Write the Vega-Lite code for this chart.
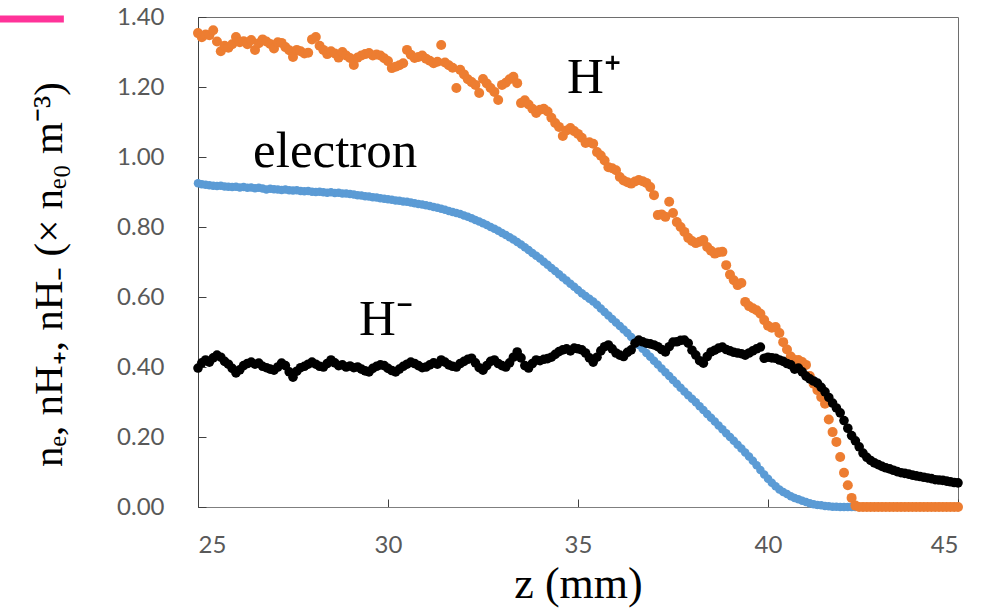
{
  "$schema": "https://vega.github.io/schema/vega-lite/v6.json",
  "width": 760,
  "height": 490,
  "autosize": {"type": "none"},
  "padding": {"left": 198, "top": 17, "right": 39, "bottom": 101},
  "background": "white",
  "config": {"view": {"stroke": "#6e6e6e", "strokeWidth": 1}},
  "datasets": {
    "d": [
{"z":25.0,"e":0.925,"p":1.354,"m":0.397},{"z":25.1,"e":0.922,"p":1.342,"m":0.412},{"z":25.2,"e":0.921,"p":1.350,"m":0.420},{"z":25.3,"e":0.919,"p":1.348,"m":0.414},{"z":25.4,"e":0.918,"p":1.362,"m":0.426},{"z":25.5,"e":0.917,"p":1.330,"m":0.434},{"z":25.6,"e":0.918,"p":1.302,"m":0.428},{"z":25.7,"e":0.916,"p":1.318,"m":0.416},{"z":25.8,"e":0.915,"p":1.312,"m":0.408},{"z":25.9,"e":0.914,"p":1.322,"m":0.396},
{"z":26.0,"e":0.915,"p":1.343,"m":0.383},{"z":26.1,"e":0.913,"p":1.328,"m":0.392},{"z":26.2,"e":0.914,"p":1.331,"m":0.404},{"z":26.3,"e":0.912,"p":1.322,"m":0.410},{"z":26.4,"e":0.913,"p":1.334,"m":0.414},{"z":26.5,"e":0.911,"p":1.306,"m":0.408},{"z":26.6,"e":0.912,"p":1.325,"m":0.411},{"z":26.7,"e":0.910,"p":1.336,"m":0.402},{"z":26.8,"e":0.907,"p":1.330,"m":0.398},{"z":26.9,"e":0.909,"p":1.323,"m":0.394},
{"z":27.0,"e":0.908,"p":1.310,"m":0.391},{"z":27.1,"e":0.907,"p":1.328,"m":0.400},{"z":27.2,"e":0.906,"p":1.326,"m":0.411},{"z":27.3,"e":0.907,"p":1.314,"m":0.404},{"z":27.4,"e":0.905,"p":1.305,"m":0.386},{"z":27.5,"e":0.904,"p":1.286,"m":0.371},{"z":27.6,"e":0.905,"p":1.306,"m":0.388},{"z":27.7,"e":0.903,"p":1.302,"m":0.398},{"z":27.8,"e":0.902,"p":1.296,"m":0.402},{"z":27.9,"e":0.903,"p":1.298,"m":0.408},
{"z":28.0,"e":0.901,"p":1.336,"m":0.414},{"z":28.1,"e":0.900,"p":1.343,"m":0.408},{"z":28.2,"e":0.901,"p":1.318,"m":0.402},{"z":28.3,"e":0.899,"p":1.306,"m":0.400},{"z":28.4,"e":0.898,"p":1.294,"m":0.410},{"z":28.5,"e":0.899,"p":1.302,"m":0.420},{"z":28.6,"e":0.897,"p":1.296,"m":0.412},{"z":28.7,"e":0.898,"p":1.284,"m":0.404},{"z":28.8,"e":0.896,"p":1.300,"m":0.406},{"z":28.9,"e":0.896,"p":1.290,"m":0.400},
{"z":29.0,"e":0.894,"p":1.283,"m":0.403},{"z":29.1,"e":0.893,"p":1.263,"m":0.398},{"z":29.2,"e":0.891,"p":1.284,"m":0.400},{"z":29.3,"e":0.890,"p":1.290,"m":0.394},{"z":29.4,"e":0.888,"p":1.294,"m":0.389},{"z":29.5,"e":0.887,"p":1.297,"m":0.386},{"z":29.6,"e":0.885,"p":1.290,"m":0.396},{"z":29.7,"e":0.884,"p":1.293,"m":0.402},{"z":29.8,"e":0.882,"p":1.290,"m":0.406},{"z":29.9,"e":0.881,"p":1.282,"m":0.404},
{"z":30.0,"e":0.879,"p":1.274,"m":0.396},{"z":30.1,"e":0.878,"p":1.254,"m":0.390},{"z":30.2,"e":0.876,"p":1.258,"m":0.386},{"z":30.3,"e":0.875,"p":1.262,"m":0.394},{"z":30.4,"e":0.873,"p":1.268,"m":0.402},{"z":30.5,"e":0.872,"p":1.306,"m":0.408},{"z":30.6,"e":0.870,"p":1.292,"m":0.414},{"z":30.7,"e":0.868,"p":1.283,"m":0.410},{"z":30.8,"e":0.866,"p":1.286,"m":0.404},{"z":30.9,"e":0.864,"p":1.290,"m":0.398},
{"z":31.0,"e":0.862,"p":1.281,"m":0.400},{"z":31.1,"e":0.860,"p":1.275,"m":0.406},{"z":31.2,"e":0.857,"p":1.268,"m":0.412},{"z":31.3,"e":0.855,"p":1.272,"m":0.408},{"z":31.4,"e":0.852,"p":1.320,"m":0.420},{"z":31.5,"e":0.849,"p":1.270,"m":0.414},{"z":31.6,"e":0.846,"p":1.262,"m":0.406},{"z":31.7,"e":0.843,"p":1.255,"m":0.402},{"z":31.8,"e":0.840,"p":1.197,"m":0.400},{"z":31.9,"e":0.837,"p":1.249,"m":0.410},
{"z":32.0,"e":0.833,"p":1.236,"m":0.416},{"z":32.1,"e":0.829,"p":1.222,"m":0.422},{"z":32.2,"e":0.825,"p":1.214,"m":0.425},{"z":32.3,"e":0.820,"p":1.206,"m":0.412},{"z":32.4,"e":0.816,"p":1.183,"m":0.398},{"z":32.5,"e":0.811,"p":1.223,"m":0.391},{"z":32.6,"e":0.806,"p":1.210,"m":0.404},{"z":32.7,"e":0.800,"p":1.197,"m":0.416},{"z":32.8,"e":0.795,"p":1.186,"m":0.420},{"z":32.9,"e":0.789,"p":1.163,"m":0.410},
{"z":33.0,"e":0.783,"p":1.206,"m":0.404},{"z":33.1,"e":0.777,"p":1.212,"m":0.400},{"z":33.2,"e":0.771,"p":1.222,"m":0.412},{"z":33.3,"e":0.764,"p":1.229,"m":0.428},{"z":33.4,"e":0.757,"p":1.211,"m":0.443},{"z":33.5,"e":0.750,"p":1.154,"m":0.426},{"z":33.6,"e":0.742,"p":1.162,"m":0.404},{"z":33.7,"e":0.734,"p":1.150,"m":0.397},{"z":33.8,"e":0.726,"p":1.138,"m":0.410},{"z":33.9,"e":0.718,"p":1.126,"m":0.420},
{"z":34.0,"e":0.710,"p":1.135,"m":0.418},{"z":34.1,"e":0.701,"p":1.138,"m":0.422},{"z":34.2,"e":0.692,"p":1.130,"m":0.424},{"z":34.3,"e":0.683,"p":1.112,"m":0.428},{"z":34.4,"e":0.674,"p":1.097,"m":0.436},{"z":34.5,"e":0.665,"p":1.086,"m":0.444},{"z":34.6,"e":0.656,"p":1.060,"m":0.449},{"z":34.7,"e":0.647,"p":1.076,"m":0.452},{"z":34.8,"e":0.638,"p":1.083,"m":0.446},{"z":34.9,"e":0.629,"p":1.074,"m":0.454},
{"z":35.0,"e":0.620,"p":1.066,"m":0.452},{"z":35.1,"e":0.611,"p":1.055,"m":0.449},{"z":35.2,"e":0.603,"p":1.040,"m":0.440},{"z":35.3,"e":0.595,"p":1.042,"m":0.426},{"z":35.4,"e":0.587,"p":1.038,"m":0.414},{"z":35.5,"e":0.578,"p":1.014,"m":0.428},{"z":35.6,"e":0.567,"p":1.004,"m":0.446},{"z":35.7,"e":0.557,"p":0.990,"m":0.458},{"z":35.8,"e":0.547,"p":0.971,"m":0.463},{"z":35.9,"e":0.537,"p":0.968,"m":0.452},
{"z":36.0,"e":0.527,"p":0.962,"m":0.440},{"z":36.1,"e":0.517,"p":0.943,"m":0.434},{"z":36.2,"e":0.507,"p":0.933,"m":0.430},{"z":36.3,"e":0.497,"p":0.928,"m":0.442},{"z":36.4,"e":0.486,"p":0.924,"m":0.449},{"z":36.5,"e":0.475,"p":0.930,"m":0.468},{"z":36.6,"e":0.463,"p":0.934,"m":0.477},{"z":36.7,"e":0.452,"p":0.931,"m":0.472},{"z":36.8,"e":0.440,"p":0.926,"m":0.468},{"z":36.9,"e":0.429,"p":0.914,"m":0.466},
{"z":37.0,"e":0.418,"p":0.891,"m":0.463},{"z":37.1,"e":0.407,"p":0.834,"m":0.458},{"z":37.2,"e":0.396,"p":0.836,"m":0.450},{"z":37.3,"e":0.385,"p":0.829,"m":0.443},{"z":37.4,"e":0.374,"p":0.872,"m":0.458},{"z":37.5,"e":0.363,"p":0.840,"m":0.471},{"z":37.6,"e":0.352,"p":0.814,"m":0.472},{"z":37.7,"e":0.341,"p":0.800,"m":0.476},{"z":37.8,"e":0.330,"p":0.786,"m":0.477},{"z":37.9,"e":0.319,"p":0.769,"m":0.468},
{"z":38.0,"e":0.309,"p":0.760,"m":0.448},{"z":38.1,"e":0.299,"p":0.754,"m":0.434},{"z":38.2,"e":0.288,"p":0.758,"m":0.418},{"z":38.3,"e":0.277,"p":0.763,"m":0.411},{"z":38.4,"e":0.266,"p":0.743,"m":0.430},{"z":38.5,"e":0.255,"p":0.732,"m":0.443},{"z":38.6,"e":0.244,"p":0.724,"m":0.448},{"z":38.7,"e":0.233,"p":0.728,"m":0.454},{"z":38.8,"e":0.222,"p":0.729,"m":0.457},{"z":38.9,"e":0.211,"p":0.691,"m":0.450},
{"z":39.0,"e":0.200,"p":0.664,"m":0.446},{"z":39.1,"e":0.189,"p":0.648,"m":0.442},{"z":39.2,"e":0.178,"p":0.634,"m":0.440},{"z":39.3,"e":0.167,"p":0.640,"m":0.438},{"z":39.4,"e":0.156,"p":0.586,"m":0.434},{"z":39.5,"e":0.144,"p":0.574,"m":0.440},{"z":39.6,"e":0.132,"p":0.568,"m":0.446},{"z":39.7,"e":0.119,"p":0.562,"m":0.452},{"z":39.8,"e":0.106,"p":0.552,"m":0.457},{"z":39.9,"e":0.093,"p":0.534,"m":0.425},
{"z":40.0,"e":0.081,"p":0.518,"m":0.428},{"z":40.1,"e":0.069,"p":0.512,"m":0.426},{"z":40.2,"e":0.059,"p":0.514,"m":0.425},{"z":40.3,"e":0.050,"p":0.497,"m":0.420},{"z":40.4,"e":0.043,"p":0.471,"m":0.416},{"z":40.5,"e":0.037,"p":0.450,"m":0.410},{"z":40.6,"e":0.031,"p":0.430,"m":0.406},{"z":40.7,"e":0.026,"p":0.420,"m":0.394},{"z":40.8,"e":0.022,"p":0.420,"m":0.397},{"z":40.9,"e":0.018,"p":0.414,"m":0.386},
{"z":41.0,"e":0.014,"p":0.406,"m":0.374},{"z":41.1,"e":0.011,"p":0.374,"m":0.366},{"z":41.2,"e":0.008,"p":0.352,"m":0.360},{"z":41.3,"e":0.006,"p":0.334,"m":0.354},{"z":41.4,"e":0.005,"p":0.314,"m":0.342},{"z":41.5,"e":0.003,"p":0.295,"m":0.329},{"z":41.6,"e":0.002,"p":0.250,"m":0.313},{"z":41.7,"e":0.001,"p":0.214,"m":0.297},{"z":41.8,"e":0.001,"p":0.186,"m":0.283},{"z":41.9,"e":0,"p":0.143,"m":0.269},
{"z":42.0,"e":0,"p":0.098,"m":0.247},{"z":42.1,"e":0,"p":0.062,"m":0.225},{"z":42.2,"e":0,"p":0.026,"m":0.204},{"z":42.3,"e":0,"p":0.004,"m":0.189},{"z":42.4,"e":0,"p":0,"m":0.172},{"z":42.5,"e":0,"p":0,"m":0.154},{"z":42.6,"e":0,"p":0,"m":0.142},{"z":42.7,"e":0,"p":0,"m":0.133},{"z":42.8,"e":0,"p":0,"m":0.126},{"z":42.9,"e":0,"p":0,"m":0.121},
{"z":43.0,"e":0,"p":0,"m":0.116},{"z":43.1,"e":0,"p":0,"m":0.112},{"z":43.2,"e":0,"p":0,"m":0.109},{"z":43.3,"e":0,"p":0,"m":0.105},{"z":43.4,"e":0,"p":0,"m":0.101},{"z":43.5,"e":0,"p":0,"m":0.098},{"z":43.6,"e":0,"p":0,"m":0.096},{"z":43.7,"e":0,"p":0,"m":0.094},{"z":43.8,"e":0,"p":0,"m":0.091},{"z":43.9,"e":0,"p":0,"m":0.089},
{"z":44.0,"e":0,"p":0,"m":0.087},{"z":44.1,"e":0,"p":0,"m":0.085},{"z":44.2,"e":0,"p":0,"m":0.083},{"z":44.3,"e":0,"p":0,"m":0.081},{"z":44.4,"e":0,"p":0,"m":0.078},{"z":44.5,"e":0,"p":0,"m":0.077},{"z":44.6,"e":0,"p":0,"m":0.076},{"z":44.7,"e":0,"p":0,"m":0.074},{"z":44.8,"e":0,"p":0,"m":0.072},{"z":44.9,"e":0,"p":0,"m":0.070},
{"z":45.0,"e":0,"p":0,"m":0.069}
    ],
    "labels": [
      {"z": 26.45, "v": 0.971, "t": "electron"},
      {"z": 29.24, "v": 0.491, "t": "H⁻"},
      {"z": 34.71, "v": 1.183, "t": "H⁺"}
    ],
    "pink": [{"z1": 19.6, "z2": 21.47, "v": 1.394}]
  },
  "layer": [
    {
      "data": {"name": "d"},
      "mark": {"type": "circle", "size": 72, "opacity": 1, "color": "#5B9BD5"},
      "encoding": {
        "x": {
          "field": "z", "type": "quantitative",
          "scale": {"domain": [25, 45], "nice": false},
          "axis": {
            "values": [25, 30, 35, 40, 45],
            "grid": false,
            "tickSize": -8,
            "tickColor": "#404040",
            "domainColor": "#7f7f7f",
            "labelFont": "Lato",
            "labelFontSize": 24,
            "labelColor": "#595959",
            "labelPadding": 34,
            "title": "z (mm)",
            "titleFont": "Liberation Serif",
            "titleFontSize": 44,
            "titleFontWeight": "normal",
            "titleColor": "#000000",
            "titlePadding": 5
          }
        },
        "y": {
          "field": "e", "type": "quantitative",
          "scale": {"domain": [0, 1.4], "nice": false},
          "axis": {
            "values": [0, 0.2, 0.4, 0.6, 0.8, 1.0, 1.2, 1.4],
            "format": ".2f",
            "grid": false,
            "tickSize": -8,
            "tickColor": "#404040",
            "domainColor": "#404040",
            "labelFont": "Lato",
            "labelFontSize": 24,
            "labelColor": "#595959",
            "labelPadding": 42,
            "title": "nₑ, nH₊, nH₋ (× nₑ₀ m⁻³)",
            "titleFont": "Liberation Serif",
            "titleFontSize": 41,
            "titleFontWeight": "normal",
            "titleColor": "#000000",
            "titlePadding": 46,
            "titleY": 257
          }
        }
      }
    },
    {
      "data": {"name": "d"},
      "mark": {"type": "circle", "size": 100, "opacity": 1, "color": "#ED7D31"},
      "encoding": {
        "x": {"field": "z", "type": "quantitative"},
        "y": {"field": "p", "type": "quantitative"}
      }
    },
    {
      "data": {"name": "d"},
      "mark": {"type": "circle", "size": 92, "opacity": 1, "color": "#000000"},
      "encoding": {
        "x": {"field": "z", "type": "quantitative"},
        "y": {"field": "m", "type": "quantitative"}
      }
    },
    {
      "data": {"name": "labels"},
      "mark": {"type": "text", "font": "Liberation Serif", "fontSize": 51, "align": "left", "baseline": "alphabetic", "color": "#000000"},
      "encoding": {
        "x": {"field": "z", "type": "quantitative"},
        "y": {"field": "v", "type": "quantitative"},
        "text": {"field": "t"}
      }
    },
    {
      "data": {"name": "pink"},
      "mark": {"type": "rule", "color": "#FF3399", "strokeWidth": 7, "clip": false},
      "encoding": {
        "x": {"field": "z1", "type": "quantitative"},
        "x2": {"field": "z2"},
        "y": {"field": "v", "type": "quantitative"}
      }
    }
  ]
}
